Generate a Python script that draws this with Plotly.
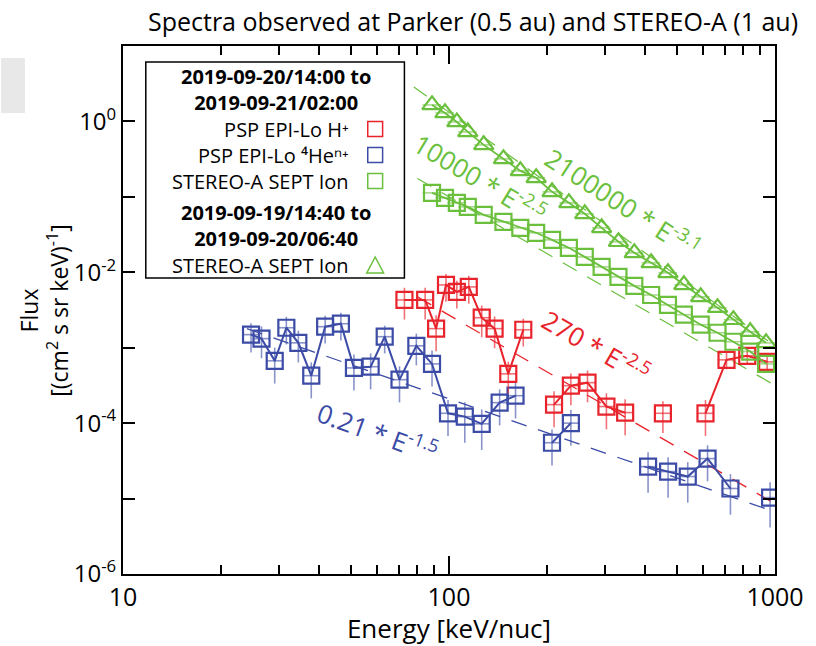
import plotly.graph_objects as go

# ---------------- data ----------------
# PSP EPI-Lo H+
red_E = [73.0, 84.5, 91.3, 97.9, 105.7, 115.0, 126.0, 138.0, 152.0, 169.0,
         210.0, 236.5, 266.0, 304.0, 347.0,
         453.0,
         612.0, 710.0, 822.0, 946.0]
red_F = [4.3e-3, 4.3e-3, 1.79e-3, 6.8e-3, 5.5e-3, 6.4e-3, 2.5e-3, 1.79e-3, 4.5e-4, 1.73e-3,
         1.76e-4, 3.14e-4, 3.44e-4, 1.66e-4, 1.38e-4,
         1.35e-4,
         1.35e-4, 6.9e-4, 7.8e-4, 6.5e-4]
red_rel_err = [0.45, 0.45, 0.5, 0.4, 0.4, 0.4, 0.45, 0.45, 0.45, 0.4,
               0.5, 0.45, 0.45, 0.5, 0.5,
               0.45,
               0.5, 0.25, 0.2, 0.2]
red_seg = [0]*10 + [1]*5 + [2] + [3]*4

# PSP EPI-Lo 4He n+
blue_E = [24.7, 26.6, 29.2, 31.7, 34.5, 37.8, 41.7, 46.6, 51.1, 57.5,
          63.5, 70.5, 79.4, 88.7, 99.3, 111.8, 126.0, 143.0, 160.0,
          207.0, 236.5,
          408.0, 470.0, 540.0, 621.0, 730.0,
          966.0]
blue_F = [1.49e-3, 1.32e-3, 6.7e-4, 1.84e-3, 1.16e-3, 4.26e-4, 1.9e-3, 2.08e-3, 5.4e-4, 5.6e-4,
          1.4e-3, 3.77e-4, 1.06e-3, 6.1e-4, 1.35e-4, 1.22e-4, 9.8e-5, 1.87e-4, 2.31e-4,
          5.5e-5, 1.0e-4,
          2.65e-5, 2.28e-5, 1.96e-5, 3.39e-5, 1.36e-5,
          1.03e-5]
blue_rel_err = [0.42, 0.45, 0.5, 0.4, 0.45, 0.5, 0.4, 0.4, 0.5, 0.5,
                0.4, 0.5, 0.45, 0.5, 0.5, 0.55, 0.55, 0.5, 0.5,
                0.5, 0.5,
                0.55, 0.55, 0.55, 0.5, 0.55,
                0.6]
blue_seg = [0]*19 + [1]*2 + [2]*5 + [3]

# STEREO-A SEPT ion (squares, 2019-09-20/14:00 - 09-21/02:00)
sept_E = [88.7, 97.2, 105.7, 114.2, 127.8, 146.9, 165.5, 185.1, 207.1, 233.2, 260.9,
          293.9, 331.0, 370.2, 417.0, 469.6, 525.3, 591.6, 666.3, 745.3, 839.5, 938.9]
sept_F = [0.113, 0.097, 0.083, 0.0738, 0.0578, 0.0467, 0.0388, 0.0334, 0.0269, 0.0211, 0.0160,
          0.0118, 8.7e-3, 6.6e-3, 5.0e-3, 3.7e-3, 2.74e-3, 2.02e-3, 1.58e-3, 1.2e-3, 8.9e-4, 6.1e-4]

# STEREO-A SEPT ion (triangles, 2019-09-19/14:40 - 09-20/06:40)
sept2_F = [1.655, 1.297, 0.984, 0.726, 0.489, 0.319, 0.221, 0.179, 0.1165, 0.0834, 0.0596,
           0.0388, 0.0254, 0.0181, 0.01336, 9.85e-3, 6.83e-3, 4.73e-3, 3.39e-3, 2.35e-3, 1.63e-3, 1.16e-3]

# power-law fits: coefficient, index, energy range
fit_coef = {"blue": 0.21, "red": 270.0, "sq": 10000.0, "tri": 2100000.0}
fit_index = {"blue": -1.5, "red": -2.5, "sq": -2.5, "tri": -3.1}
fit_range = {"blue": (24.0, 1000.0), "red": (80.0, 1000.0), "sq": (80.0, 1000.0), "tri": (78.0, 1000.0)}

# legend texts
legend_head_1 = ["2019-09-20/14:00 to", "2019-09-21/02:00"]
legend_items_1 = ["PSP EPI-Lo H\u207a", "PSP EPI-Lo \u2074He\u207f\u207a", "STEREO-A SEPT Ion"]
legend_head_2 = ["2019-09-19/14:40 to", "2019-09-20/06:40"]
legend_items_2 = ["STEREO-A SEPT Ion"]

RED = "#E8232B"
BLUE = "#3B4BA6"
GREEN = "#6ABF3C"
RED_E = "rgba(232,35,43,0.65)"
BLUE_E = "rgba(59,75,166,0.6)"
GREEN_E = "rgba(106,191,60,0.6)"
FONT = "Open Sans"


def with_gaps(xs, ys, errs, segs):
    ox, oy, oe = [], [], []
    for i, (x, y, e, s) in enumerate(zip(xs, ys, errs, segs)):
        if i > 0 and s != segs[i - 1]:
            ox.append(None); oy.append(None); oe.append(None)
        ox.append(x); oy.append(y); oe.append(e)
    return ox, oy, oe


def fit_curve(key):
    lo, hi = fit_range[key]
    n = 60
    xs = [lo * (hi / lo) ** (i / (n - 1)) for i in range(n)]
    ys = [fit_coef[key] * x ** fit_index[key] for x in xs]
    return xs, ys


fig = go.Figure()

# fit lines
for key, col, w in [("blue", BLUE, 1.3), ("red", RED, 1.3), ("sq", GREEN, 1.2), ("tri", GREEN, 1.2)]:
    fx, fy = fit_curve(key)
    fig.add_trace(go.Scatter(x=fx, y=fy, mode="lines", showlegend=False, hoverinfo="skip",
                             line=dict(color=col, width=w, dash="16px,12px")))

# blue data
bx, by, be = with_gaps(blue_E, blue_F, blue_rel_err, blue_seg)
fig.add_trace(go.Scatter(
    x=bx, y=by, mode="lines+markers", showlegend=False,
    line=dict(color=BLUE, width=2),
    marker=dict(symbol="square-open", size=16, color=BLUE, line=dict(width=2.2, color=BLUE)),
    error_y=dict(type="data", array=[None if (e is None) else e * f for e, f in zip(be, by)],
                 color=BLUE_E, thickness=1.6, width=0),
    error_x=dict(type="data", array=[None if x is None else 0.055 * x for x in bx],
                 color=BLUE_E, thickness=1.6, width=0),
))

# red data
rx, ry, re_ = with_gaps(red_E, red_F, red_rel_err, red_seg)
fig.add_trace(go.Scatter(
    x=rx, y=ry, mode="lines+markers", showlegend=False,
    line=dict(color=RED, width=2),
    marker=dict(symbol="square-open", size=16, color=RED, line=dict(width=2.2, color=RED)),
    error_y=dict(type="data", array=[None if (e is None) else e * f for e, f in zip(re_, ry)],
                 color=RED_E, thickness=1.6, width=0),
    error_x=dict(type="data", array=[None if x is None else 0.06 * x for x in rx],
                 color=RED_E, thickness=1.6, width=0),
))

# green squares
fig.add_trace(go.Scatter(
    x=sept_E, y=sept_F, mode="lines+markers", showlegend=False,
    line=dict(color=GREEN, width=1.8),
    marker=dict(symbol="square-open", size=16, color=GREEN, line=dict(width=2.2, color=GREEN)),
    error_x=dict(type="data", array=[0.065 * x for x in sept_E], color=GREEN_E, thickness=1.6, width=0),
))

# green triangles
fig.add_trace(go.Scatter(
    x=sept_E, y=sept2_F, mode="lines+markers", showlegend=False,
    line=dict(color=GREEN, width=1.8),
    marker=dict(symbol="triangle-up-open", size=17, color=GREEN, line=dict(width=2.2, color=GREEN)),
    error_x=dict(type="data", array=[0.065 * x for x in sept_E], color=GREEN_E, thickness=1.6, width=0),
))

# ---------------- layout ----------------
L, R, T, B = 123, 781, 46, 574


def px(xp):
    return (xp - L) / (R - L)


def py(yp):
    return (B - yp) / (B - T)


x_minor = [20, 30, 40, 50, 60, 70, 80, 90, 200, 300, 400, 500, 600, 700, 800, 900]
y_major = [1e-6, 1e-5, 1e-4, 1e-3, 1e-2, 1e-1, 1e0]
y_text = ["10<sup>-6</sup>", "", "10<sup>-4</sup>", "", "10<sup>-2</sup>", "", "10<sup>0</sup>"]

fig.update_layout(
    width=816, height=646,
    margin=dict(l=L, r=816 - R, t=T, b=646 - B),
    paper_bgcolor="white", plot_bgcolor="white",
    font=dict(family=FONT, color="black"),
    title=dict(text="Spectra observed at Parker (0.5 au) and STEREO-A (1 au)",
               x=473 / 816, xanchor="center", xref="container",
               y=1 - 22 / 646, yanchor="middle", yref="container",
               font=dict(size=25, family=FONT, color="black")),
    xaxis=dict(type="log", range=[1, 3], showline=True, linecolor="black", linewidth=2,
               mirror="allticks", ticks="inside", ticklen=18, tickwidth=1.5, tickcolor="black",
               tickvals=[10, 100, 1000], ticktext=["10", "100", "1000"],
               tickfont=dict(size=25, family=FONT), showgrid=False, zeroline=False,
               minor=dict(tickvals=x_minor, ticks="inside", ticklen=9, tickwidth=1.5,
                          tickcolor="black", showgrid=False),
               title=dict(text="Energy [keV/nuc]", font=dict(size=26, family=FONT), standoff=2)),
    yaxis=dict(type="log", range=[-6, 1], showline=True, linecolor="black", linewidth=2,
               mirror="allticks", ticks="inside", ticklen=12, tickwidth=1.5, tickcolor="black",
               tickvals=y_major, ticktext=y_text, tickfont=dict(size=24, family=FONT),
               showgrid=False, zeroline=False),
)

# y-axis title (two lines)
fig.add_annotation(xref="paper", yref="paper", x=px(43), y=py(310), xanchor="center", yanchor="middle",
                   text="Flux<br>[(cm<sup>2</sup> s sr keV)<sup>-1</sup>]", textangle=-90,
                   showarrow=False, font=dict(size=23, family=FONT))

# fit labels
for txt, cx, cy, ang, col in [
    ("10000 * E<sup>-2.5</sup>", 483, 178, 31, GREEN),
    ("2100000 * E<sup>-3.1</sup>", 628, 203, 33, GREEN),
    ("270 * E<sup>-2.5</sup>", 600, 346, 30, RED),
    ("0.21 * E<sup>-1.5</sup>", 380, 432, 20, BLUE),
]:
    fig.add_annotation(xref="paper", yref="paper", x=px(cx), y=py(cy), xanchor="center", yanchor="middle",
                       text=txt, textangle=ang, showarrow=False, font=dict(size=26, family=FONT, color=col))

# legend box (drawn manually to match the right-side symbol layout)
fig.add_shape(type="rect", xref="paper", yref="paper", x0=px(146), x1=px(407), y0=py(278), y1=py(62),
              line=dict(color="black", width=1.5), fillcolor="white", layer="above")
HEAD_SIZE, ITEM_SIZE = 20, 20
for lines, cy in [(legend_head_1, 89), (legend_head_2, 225)]:
    fig.add_annotation(xref="paper", yref="paper", x=px(277), y=py(cy), xanchor="center", yanchor="middle",
                       text="<b>" + "<br>".join(lines) + "</b>", align="center", borderpad=0,
                       showarrow=False, font=dict(size=HEAD_SIZE, family=FONT))
for lines, cy in [(legend_items_1, 155), (legend_items_2, 265)]:
    fig.add_annotation(xref="paper", yref="paper", x=px(352), y=py(cy), xanchor="right", yanchor="middle",
                       text="<br>".join(lines), align="right", borderpad=0,
                       showarrow=False, font=dict(size=ITEM_SIZE, family=FONT))
step = ITEM_SIZE * 1.3
for col, cy in [(RED, 155 - step), (BLUE, 155), (GREEN, 155 + step)]:
    fig.add_shape(type="rect", xref="paper", yref="paper", x0=px(370), x1=px(385), y0=py(cy + 7.5),
                  y1=py(cy - 7.5), line=dict(color=col, width=1.5), layer="above")
fig.add_shape(type="path", xref="paper", yref="paper",
              path="M %f %f L %f %f L %f %f Z" % (px(369), py(273), px(386), py(273), px(377.5), py(257)),
              line=dict(color=GREEN, width=1.5), layer="above")

# light grey artefact at the top-left corner
fig.add_shape(type="rect", xref="paper", yref="paper", x0=px(0), x1=px(24), y0=py(113), y1=py(58),
              line=dict(width=0), fillcolor="#E8E8E8", layer="below")

fig.write_html("out.html")
